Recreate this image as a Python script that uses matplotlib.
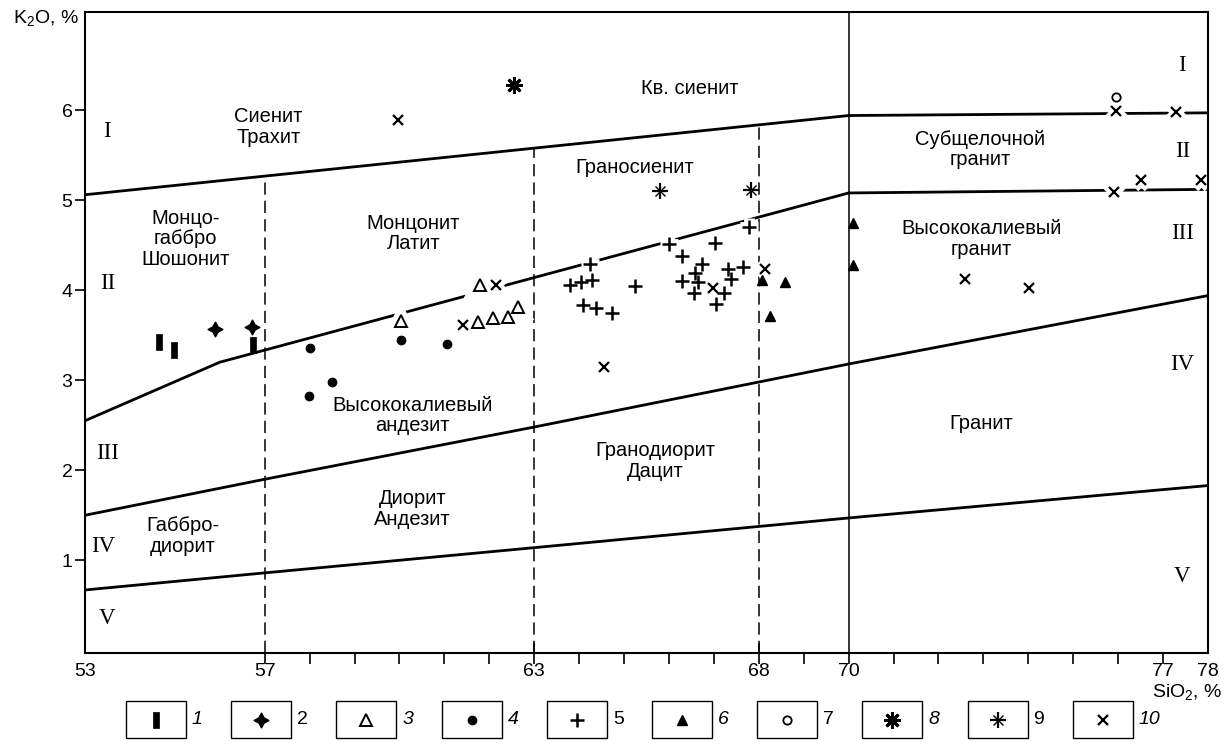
import matplotlib
matplotlib.use("Agg")
import matplotlib.pyplot as plt
from matplotlib.patches import Rectangle
from matplotlib.path import Path
import numpy as np

plt.rcParams['font.family'] = ['Liberation Sans', 'DejaVu Sans']
plt.rcParams['mathtext.fontset'] = 'custom'
plt.rcParams['mathtext.rm'] = 'Liberation Sans'

# boundary lines SiO2 -> K2O
line_1_x = [53, 70, 78]
line_1_y = [5.06, 5.94, 5.97]
line_2_x = [53, 56, 70, 78]
line_2_y = [2.55, 3.20, 5.08, 5.12]
line_3_x = [53, 57, 63, 68, 70, 78]
line_3_y = [1.50, 1.90, 2.48, 2.98, 3.18, 3.94]
line_4_x = [53, 57, 63, 70, 78]
line_4_y = [0.67, 0.86, 1.14, 1.47, 1.83]
dashed_x = [57, 63, 68]
solid_x = 70

# sample groups 1..10
s1_x = [54.65, 54.99, 56.73]
s1_y = [3.43, 3.34, 3.39]
s2_x = [55.89, 56.71]
s2_y = [3.57, 3.59]
s3_x = [60.03, 61.79, 61.76, 62.09, 62.42, 62.63]
s3_y = [3.66, 4.06, 3.65, 3.69, 3.70, 3.81]
s4_x = [58.01, 60.03, 61.05, 58.49, 57.99]
s4_y = [3.36, 3.45, 3.40, 2.98, 2.82]
s5_x = [64.24, 63.80, 64.04, 64.28, 64.09, 64.38, 64.74, 65.24, 66.00, 66.30, 67.03,
        66.73, 66.59, 66.30, 66.65, 66.56, 67.32, 67.37, 67.65, 67.22, 67.04, 67.79]
s5_y = [4.29, 4.06, 4.09, 4.11, 3.83, 3.80, 3.75, 4.05, 4.51, 4.38, 4.52,
        4.29, 4.19, 4.10, 4.09, 3.97, 4.23, 4.12, 4.26, 3.97, 3.85, 4.70]
s6_x = [68.08, 68.58, 68.25, 70.10, 70.10]
s6_y = [4.11, 4.09, 3.71, 4.75, 4.28]
s7_x = [75.95]
s7_y = [6.15]
s8_x = [62.54]
s8_y = [6.28]
s9_x = [65.79, 67.83]
s9_y = [5.10, 5.11]
s10_x = [59.97, 62.16, 61.42, 64.56, 66.97, 68.13, 72.59, 74.02, 75.95, 77.29, 75.91, 76.50, 77.84]
s10_y = [5.89, 4.06, 3.61, 3.15, 4.02, 4.23, 4.12, 4.02, 5.99, 5.98, 5.09, 5.22, 5.22]

x_major = [53, 57, 63, 68, 70, 77, 78]
y_major = [1, 2, 3, 4, 5, 6]

bar = Path([(-0.33, -1), (0.33, -1), (0.33, 1), (-0.33, 1), (-0.33, -1)])

groups = [
    ('1', s1_x, s1_y, dict(marker=bar, ms=11, mfc='black', mec='black', mew=0.5), False),
    ('2', s2_x, s2_y, dict(marker=(4, 1, 0), ms=11, mfc='black', mec='black', mew=0.8), False),
    ('3', s3_x, s3_y, dict(marker='^', ms=8, mfc='white', mec='black', mew=1.4), True),
    ('4', s4_x, s4_y, dict(marker='o', ms=6, mfc='black', mec='black'), False),
    ('5', s5_x, s5_y, dict(marker='+', ms=10, mec='black', mew=1.8), True),
    ('6', s6_x, s6_y, dict(marker='^', ms=7, mfc='black', mec='black'), False),
    ('7', s7_x, s7_y, dict(marker='o', ms=6, mfc='white', mec='black', mew=1.3), True),
    ('8', s8_x, s8_y, dict(marker=(8, 2, 0), ms=12, mec='black', mew=2.0), False),
    ('9', s9_x, s9_y, dict(marker='+', ms=11, mec='black', mew=1.6), False),
    ('10', s10_x, s10_y, dict(marker='x', ms=7, mec='black', mew=1.6), True),
]
italic_nums = ['1', '3', '4', '6', '8', '10']

fig = plt.figure(figsize=(12.27, 7.51), dpi=100)
ax = fig.add_axes([85 / 1227, 1 - 653 / 751, (1208 - 85) / 1227, (653 - 12) / 751])
ax.set_xlim(53, 78)
ax.set_ylim(-0.03, 7.09)

for lx, ly in [(line_1_x, line_1_y), (line_2_x, line_2_y), (line_3_x, line_3_y), (line_4_x, line_4_y)]:
    ax.plot(lx, ly, color='black', lw=2.0, solid_capstyle='butt', zorder=2)

for xv in dashed_x:
    top = np.interp(xv, line_1_x, line_1_y)
    ax.plot([xv, xv], [ax.get_ylim()[0], top], color='black', lw=1.1,
            dashes=(8, 4), zorder=2)
ax.axvline(solid_x, color='black', lw=1.1, zorder=2)

# white gaps in the boundary lines around markers sitting on them
for name, gx, gy, st, halo in groups:
    if halo:
        h = dict(st)
        h['mfc'] = 'white'
        h['mec'] = 'white'
        h['mew'] = st.get('mew', 1) + 6
        h['ms'] = st['ms'] + 3
        ax.plot(gx, gy, ls='none', zorder=2.5, **h)

for name, gx, gy, st, halo in groups:
    ax.plot(gx, gy, ls='none', zorder=3, **st)
# second stroke for group 9 (dotted cross look)
ax.plot(s9_x, s9_y, ls='none', marker='x', ms=7, mec='black', mew=1.0, zorder=3)

# region names
names = [
    (57.08, 5.81, 'Сиенит\nТрахит'),
    (55.23, 4.57, 'Монцо-\nгаббро\nШошонит'),
    (60.31, 4.63, 'Монцонит\nЛатит'),
    (66.47, 6.24, 'Кв. сиенит'),
    (65.24, 5.36, 'Граносиенит'),
    (72.92, 5.56, 'Субщелочной\nгранит'),
    (72.96, 4.57, 'Высококалиевый\nгранит'),
    (60.29, 2.61, 'Высококалиевый\nандезит'),
    (65.70, 2.10, 'Гранодиорит\nДацит'),
    (60.29, 1.57, 'Диорит\nАндезит'),
    (55.17, 1.27, 'Габбро-\nдиорит'),
    (72.96, 2.52, 'Гранит'),
]
for tx, ty, t in names:
    ax.text(tx, ty, t, ha='center', va='center', fontsize=14.5, linespacing=1.1, zorder=4)

romans = [
    (53.5, 5.76, 'I'), (53.5, 4.07, 'II'), (53.5, 2.19, 'III'), (53.4, 1.15, 'IV'), (53.5, 0.35, 'V'),
    (77.43, 6.50, 'I'), (77.43, 5.54, 'II'), (77.43, 4.63, 'III'), (77.43, 3.18, 'IV'), (77.43, 0.82, 'V'),
]
for tx, ty, t in romans:
    ax.text(tx, ty, t, ha='center', va='center', fontsize=16.5, family='Liberation Serif', zorder=4)

for s in ax.spines.values():
    s.set_linewidth(1.5)

ax.xaxis.remove_overlapping_locs = False
ax.set_xticks(x_major)
ax.set_xticklabels([str(v) for v in x_major])
ax.set_xticks(list(range(57, 78)), minor=True)
ax.tick_params(axis='x', which='major', length=0, pad=7, labelsize=14)
ax.tick_params(axis='x', which='minor', direction='out', length=8, width=1.2)
ax.vlines([63, 68], 0, 0.016, transform=ax.get_xaxis_transform(), color='black', lw=1.2)
ax.set_yticks(y_major)
ax.set_yticklabels([str(v) for v in y_major])
ax.tick_params(axis='y', direction='out', length=7, width=1.2, pad=2, labelsize=14)

fig.text(79 / 1227, 1 - 19 / 751, 'K$_2$O, %', ha='right', va='center', fontsize=14)
fig.text(1222 / 1227, 1 - 693 / 751, 'SiO$_2$, %', ha='right', va='center', fontsize=14)

# legend strip in pixel coordinates
lax = fig.add_axes([0, 0, 1, 1], zorder=-1)
lax.set_xlim(0, 1227)
lax.set_ylim(751, 0)
lax.axis('off')
for i, (name, gx, gy, st, halo) in enumerate(groups):
    x0 = 126 + i * 105.2
    lax.add_patch(Rectangle((x0, 701), 60, 37, fill=False, lw=1.0, ec='black'))
    lax.plot([x0 + 30], [719.5], ls='none', **st)
    if name == '9':
        lax.plot([x0 + 30], [719.5], ls='none', marker='x', ms=7, mec='black', mew=1.0)
    lax.text(x0 + 66, 719.5, name, ha='left', va='center', fontsize=14,
             style='italic' if name in italic_nums else 'normal')

fig.savefig('out.png', dpi=100)
